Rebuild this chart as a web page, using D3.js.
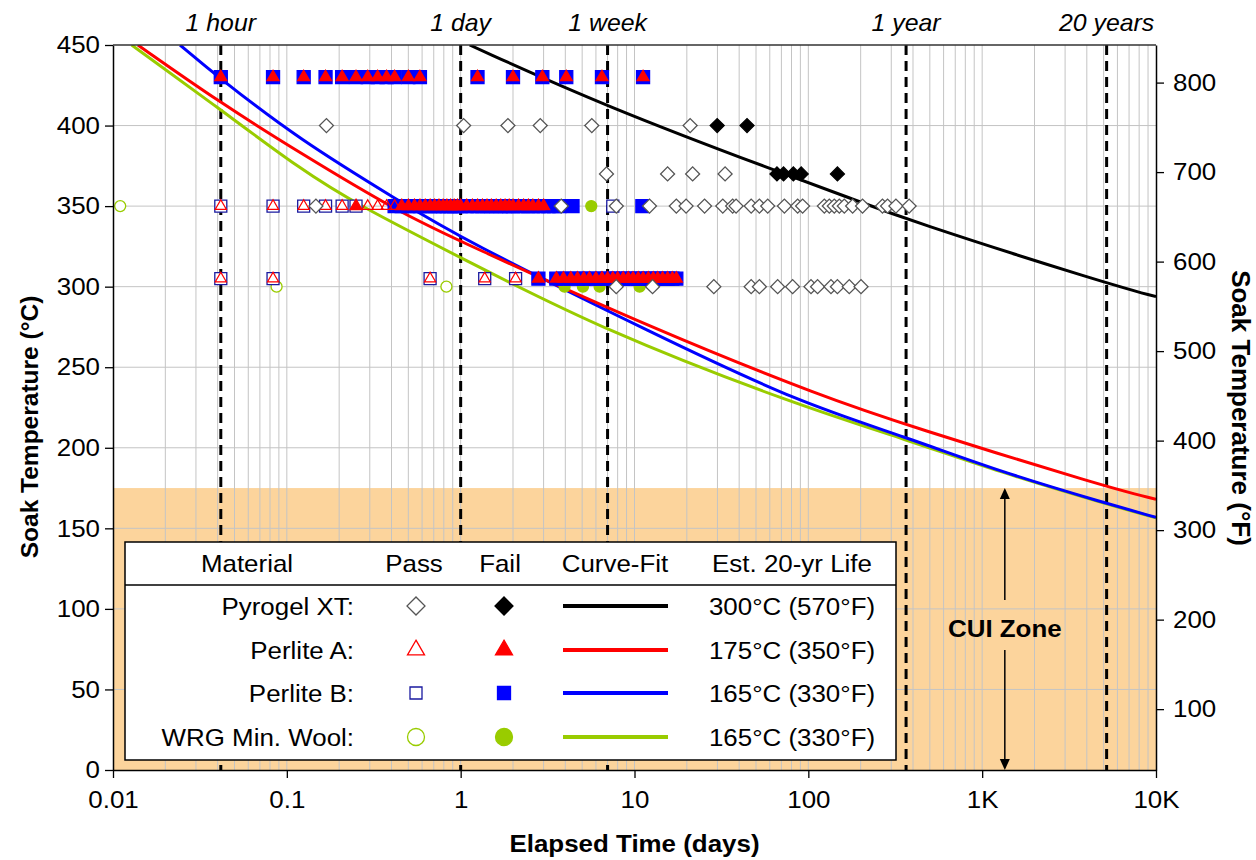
<!DOCTYPE html>
<html>
<head>
<meta charset="utf-8">
<script src="https://cdn.jsdelivr.net/npm/d3@7"></script>
<style>
  body { margin: 0; background: #fff; }
  svg { display: block; }
  text { font-family: "Liberation Sans", Arial, Helvetica, sans-serif; fill: #000; }
</style>
</head>
<body>
<svg id="chart" width="1256" height="860"></svg>
<script>
// ---------- data: [elapsed days, soak temperature °C] ----------
const pyrogelPass = [
  [0.169,400],[1.04,400],[1.87,400],[2.87,400],[5.68,400],[20.9,400],
  [6.9,370],[15.5,370],[21.6,370],[33.2,370],
  [0.147,350],[3.79,350],[7.86,350],[12.2,350],[17.4,350],[19.8,350],[25.3,350],[32.2,350],
  [36.7,350],[38.4,350],[46.9,350],[52.3,350],[58.4,350],[72.8,350],[86.8,350],[92.7,350],
  [123.6,350],[132,350],[141,350],[150.7,350],[161,350],[179.8,350],[205,350],[267,350],
  [285.6,350],[319,350],[380,350],
  [7.85,300],[12.7,300],[28.6,300],[46.9,300],[52.3,300],[66.6,300],[81.2,300],[103.6,300],
  [113,300],[135,300],[147,300],[172,300],[201,300]
];
const pyrogelFail = [
  [29.9,400],[44.4,400],
  [66,370],[72,370],[82,370],[91,370],[147,370]
];
const perliteAPass = [
  [0.0417,350],[0.0833,350],[0.125,350],[0.167,350],[0.208,350],[0.292,350],[0.333,350],[0.375,350],[0.417,350],
  [0.0417,305],[0.0833,305],[0.667,305],[1.375,305],[2.07,305]
];
const perliteAFail = [
  [0.0417,430],[0.0833,430],[0.125,430],[0.167,430],[0.208,430],[0.25,430],[0.292,430],[0.333,430],
  [0.375,430],[0.417,430],[0.5,430],[0.583,430],[1.25,430],[2.0,430],[2.95,430],[4.05,430],[6.5,430],[11.2,430],
  [0.25,350],[0.458,350],[0.5,350],[0.542,350],[0.583,350],[0.625,350],[0.667,350],[0.708,350],[0.75,350],
  [0.792,350],[0.833,350],[0.875,350],[0.917,350],[0.958,350],[1.0,350],[1.083,350],[1.167,350],[1.25,350],
  [1.333,350],[1.417,350],[1.5,350],[1.6,350],[1.7,350],[1.8,350],[1.9,350],[2.0,350],[2.15,350],[2.3,350],
  [2.45,350],[2.6,350],[2.8,350],[3.0,350],
  [2.8,305],[3.55,305],[3.9,305],[4.3,305],[4.7,305],[5.1,305],[5.5,305],[6.0,305],[6.5,305],[7.0,305],
  [7.5,305],[8.0,305],[8.6,305],[9.2,305],[9.8,305],[10.5,305],[11.2,305],[12.0,305],[12.8,305],[13.6,305],
  [14.5,305],[15.5,305],[16.5,305],[17.4,305]
];
const perliteBPass = [
  [0.0417,350],[0.0833,350],[0.125,350],[0.167,350],[0.208,350],[0.25,350],[7.5,350],
  [0.0417,305],[0.0833,305],[0.667,305],[1.375,305],[2.07,305]
];
const perliteBFail = [
  [0.0417,430],[0.0833,430],[0.125,430],[0.167,430],[0.208,430],[0.25,430],[0.292,430],[0.333,430],
  [0.375,430],[0.417,430],[0.5,430],[0.583,430],[1.25,430],[2.0,430],[2.95,430],[4.05,430],[6.5,430],[11.2,430],
  [0.417,350],[0.458,350],[0.5,350],[0.542,350],[0.583,350],[0.625,350],[0.667,350],[0.708,350],[0.75,350],
  [0.792,350],[0.833,350],[0.875,350],[0.917,350],[0.958,350],[1.0,350],[1.083,350],[1.167,350],[1.25,350],
  [1.333,350],[1.417,350],[1.5,350],[1.6,350],[1.7,350],[1.8,350],[1.9,350],[2.0,350],[2.15,350],[2.3,350],
  [2.45,350],[2.6,350],[2.8,350],[3.0,350],[3.2,350],[3.45,350],[3.7,350],[4.4,350],[11.1,350],
  [2.8,305],[3.55,305],[3.9,305],[4.3,305],[4.7,305],[5.1,305],[5.5,305],[6.0,305],[6.5,305],[7.0,305],
  [7.5,305],[8.0,305],[8.6,305],[9.2,305],[9.8,305],[10.5,305],[11.2,305],[12.0,305],[12.8,305],[13.6,305],
  [14.5,305],[15.5,305],[16.5,305],[17.4,305]
];
const wrgPass = [[0.011,350],[0.0873,300],[0.828,300]];
const wrgFail = [[1.0,350],[5.64,350],[3.96,300],[5.05,300],[6.3,300],[10.7,300]];

// curve-fit lines (days, °C)
const fitPyrogel   = [[1.126,450],[6.87,411.7],[71.1,370.3],[164.8,356],[369,341.4],[5210,302],[10000,293.8]];
const fitPerliteA  = [[0.0139,450],[0.0403,415],[0.119,383],[0.446,346],[1,328],[13.3,273],[126,231],[369,214],[5210,175.5],[10000,168]];
const fitPerliteB  = [[0.0243,450],[0.0403,430],[0.119,391],[0.446,353],[1,330],[13.3,270],[88.7,228],[369,206.5],[1253,185.3],[5210,165.4],[10000,156.8]];
const fitWRG       = [[0.0128,450],[0.0403,411],[0.119,373],[0.263,350],[1,318],[6.56,273],[88.7,226],[369,205],[1253,185],[5210,165],[10000,156.5]];

// time markers along the top
const markerLabels = ["1 hour", "1 day", "1 week", "1 year", "20 years"];
const markerDays   = [0.0417, 1, 7, 365, 5200];

// axis ticks
const xTicks = [0.01, 0.1, 1, 10, 100, 1000, 10000];
const xTickLabels = ["0.01", "0.1", "1", "10", "100", "1K", "10K"];
const yTicksC = [0, 50, 100, 150, 200, 250, 300, 350, 400, 450];
const yTicksF = [100, 200, 300, 400, 500, 600, 700, 800];

// CUI zone upper limit and arrow position
const cuiTop = 175;
const cuiArrowDay = 1350;

// legend contents
const legendNames = ["Pyrogel XT:", "Perlite A:", "Perlite B:", "WRG Min. Wool:"];
const legendLife  = ["300°C (570°F)", "175°C (350°F)", "165°C (330°F)", "165°C (330°F)"];
const legendHeads = ["Material", "Pass", "Fail", "Curve-Fit", "Est. 20-yr Life"];

// ---------- layout ----------
const L = 113, R = 1156, T = 45, B = 770;
const SX = 1.08; // horizontal text stretch
const RED = "#ff0000", BLUE = "#0000ff", GREEN = "#99cc00", ORANGE = "#fcd49c", GRID = "#c4c4c4";

const svg = d3.select("#chart");
const x = d3.scaleLog().domain([0.01, 10000]).range([L, R]);
const y = d3.scaleLinear().domain([0, 450]).range([B, T]);
const yF = d3.scaleLinear().domain([32, 842]).range([B, T]);

function txt(g, px, py, s, o = {}) {
  return g.append("text")
    .attr("transform", `translate(${px},${py}) scale(${o.sx || SX},1)`)
    .attr("text-anchor", o.anchor || "start")
    .attr("font-size", o.size || 24)
    .attr("font-weight", o.weight || "normal")
    .attr("font-style", o.style || "normal")
    .text(s);
}

svg.append("defs").append("clipPath").attr("id", "plotclip")
  .append("rect").attr("x", L).attr("y", T).attr("width", R - L).attr("height", B - T);

// CUI zone
svg.append("rect").attr("x", L).attr("y", y(cuiTop)).attr("width", R - L).attr("height", B - y(cuiTop))
  .attr("fill", ORANGE);

// grid
const grid = svg.append("g");
const minor = [];
[0.01, 0.1, 1, 10, 100, 1000].forEach(d => { for (let k = 1; k <= 9; k++) minor.push(k * d); });
grid.selectAll("line.v").data(minor.filter(v => v > 0.01)).join("line")
  .attr("x1", d => x(d)).attr("x2", d => x(d)).attr("y1", T).attr("y2", B)
  .attr("stroke", GRID).attr("stroke-width", 1);
grid.selectAll("line.h").data(yTicksC.filter(v => v > 0 && v < 450)).join("line")
  .attr("x1", L).attr("x2", R).attr("y1", d => y(d)).attr("y2", d => y(d))
  .attr("stroke", GRID).attr("stroke-width", 1);

// milestone dashed lines
svg.append("g").selectAll("line").data(markerDays).join("line")
  .attr("x1", d => x(d)).attr("x2", d => x(d)).attr("y1", T).attr("y2", B)
  .attr("stroke", "#000").attr("stroke-width", 3).attr("stroke-dasharray", "10,6");
markerDays.forEach((d, i) => txt(svg, x(d), 31, markerLabels[i], { anchor: "middle", style: "italic", size: 23 }));

// curve fits
const line = d3.line().x(d => x(d[0])).y(d => y(d[1])).curve(d3.curveBasis);
const curves = svg.append("g").attr("clip-path", "url(#plotclip)");
[[fitWRG, GREEN], [fitPerliteB, BLUE], [fitPerliteA, RED], [fitPyrogel, "#000"]].forEach(([data, col]) => {
  curves.append("path").datum(data).attr("d", line).attr("fill", "none")
    .attr("stroke", col).attr("stroke-width", 3);
});

// marker shapes
const diamond = s => d3.symbol().type(d3.symbolSquare).size(s * s / 2)();
const square = s => d3.symbol().type(d3.symbolSquare).size(s * s)();
const tri = s => d3.symbol().type(d3.symbolTriangle).size(s * s * Math.sqrt(3) / 4)();
const circ = s => d3.symbol().type(d3.symbolCircle).size(Math.PI * s * s / 4)();

function drawPts(g, data, path, fill, stroke, rot = 0) {
  g.selectAll(null).data(data).join("path")
    .attr("d", path)
    .attr("transform", d => `translate(${x(d[0])},${y(d[1])}) rotate(${rot})`)
    .attr("fill", fill).attr("stroke", stroke).attr("stroke-width", 1.3);
}
const pts = svg.append("g");
drawPts(pts, wrgPass, circ(11), "#fff", GREEN);
drawPts(pts, wrgFail, circ(11), GREEN, GREEN);
drawPts(pts, perliteBPass, square(12), "#fff", "#1a1aa0");
drawPts(pts, perliteBFail, square(13), BLUE, BLUE);
drawPts(pts, perliteAPass, tri(11), "none", RED);
drawPts(pts, perliteAFail, tri(12), RED, RED);
drawPts(pts, pyrogelPass, diamond(14), "#fff", "#555", 45);
drawPts(pts, pyrogelFail, diamond(14), "#000", "#000", 45);

// axes
function stretchTicks(g) {
  g.selectAll(".tick text").each(function () {
    const t = d3.select(this);
    const ox = +t.attr("x") || 0;
    t.attr("x", ox / SX).attr("transform", `scale(${SX},1)`);
  });
}
const font = g => g.selectAll("text").attr("font-size", 24).attr("font-family", null).attr("fill", "#000");

const xAxis = svg.append("g").attr("transform", `translate(0,${B})`)
  .call(d3.axisBottom(x).tickValues(xTicks).tickFormat((d, i) => xTickLabels[i]).tickSize(8).tickSizeOuter(0).tickPadding(13));
xAxis.call(font).call(stretchTicks);
const yAxis = svg.append("g").attr("transform", `translate(${L},0)`)
  .call(d3.axisLeft(y).tickValues(yTicksC).tickSize(8).tickSizeOuter(0).tickPadding(5));
yAxis.call(font).call(stretchTicks);
const yAxisF = svg.append("g").attr("transform", `translate(${R},0)`)
  .call(d3.axisRight(yF).tickValues(yTicksF).tickSize(8).tickSizeOuter(0).tickPadding(9));
yAxisF.call(font).call(stretchTicks);
[xAxis, yAxis, yAxisF].forEach(a => {
  a.selectAll("path.domain").attr("stroke", "#000").attr("stroke-width", 1.5);
  a.selectAll(".tick line").attr("stroke", "#000").attr("stroke-width", 1.3);
});
// top frame line
svg.append("line").attr("x1", L).attr("x2", R).attr("y1", T).attr("y2", T).attr("stroke", "#333").attr("stroke-width", 1.5);

// axis titles
txt(svg, (L + R) / 2, 852, "Elapsed Time (days)", { anchor: "middle", weight: "bold", size: 24 });
svg.append("text").attr("transform", "translate(38,427) rotate(-90)")
  .attr("text-anchor", "middle").attr("font-size", 24.5).attr("font-weight", "bold")
  .text("Soak Temperature (°C)");
svg.append("text").attr("transform", "translate(1232,408) rotate(90)")
  .attr("text-anchor", "middle").attr("font-size", 26).attr("font-weight", "bold")
  .text("Soak Temperature (°F)");

// CUI zone label and arrows
const ax = x(cuiArrowDay);
const arrows = svg.append("g");
arrows.append("line").attr("x1", ax).attr("x2", ax).attr("y1", 600).attr("y2", y(cuiTop) + 8)
  .attr("stroke", "#000").attr("stroke-width", 1.5);
arrows.append("path").attr("d", `M${ax},${y(cuiTop)} l-5,11 l10,0 z`).attr("fill", "#000");
arrows.append("line").attr("x1", ax).attr("x2", ax).attr("y1", 650).attr("y2", B - 8)
  .attr("stroke", "#000").attr("stroke-width", 1.5);
arrows.append("path").attr("d", `M${ax},${B} l-5,-11 l10,0 z`).attr("fill", "#000");
txt(svg, ax, 637, "CUI Zone", { anchor: "middle", weight: "bold", size: 24 });

// legend
const lg = svg.append("g");
const LX0 = 125, LX1 = 896, LY0 = 542, LY1 = 760;
lg.append("rect").attr("x", LX0).attr("y", LY0).attr("width", LX1 - LX0).attr("height", LY1 - LY0)
  .attr("fill", "#fff").attr("stroke", "#000").attr("stroke-width", 1.5);
lg.append("line").attr("x1", LX0).attr("x2", LX1).attr("y1", 585).attr("y2", 585)
  .attr("stroke", "#000").attr("stroke-width", 1.5);
const headX = [247, 414, 500, 615, 792];
legendHeads.forEach((h, i) => txt(lg, headX[i], 572, h, { anchor: "middle" }));
const rowY = [606, 650, 693, 737];
const passX = 416, failX = 504;
const legendSym = [
  [diamond(18), "#fff", "#555", 45, diamond(18), "#000", "#000", "#000"],
  [tri(17), "#fff", RED, 0, tri(17), RED, RED, RED],
  [square(12), "#fff", "#1a1aa0", 0, square(13), BLUE, BLUE, BLUE],
  [circ(17), "#fff", GREEN, 0, circ(17), GREEN, GREEN, GREEN]
];
legendNames.forEach((n, i) => {
  const cy = rowY[i];
  txt(lg, 354, cy + 9, n, { anchor: "end" });
  const s = legendSym[i];
  lg.append("path").attr("d", s[0]).attr("transform", `translate(${passX},${cy}) rotate(${s[3]})`)
    .attr("fill", s[1]).attr("stroke", s[2]).attr("stroke-width", 1.3);
  lg.append("path").attr("d", s[4]).attr("transform", `translate(${failX},${cy}) rotate(${s[3]})`)
    .attr("fill", s[5]).attr("stroke", s[6]).attr("stroke-width", 1.3);
  lg.append("line").attr("x1", 563).attr("x2", 668).attr("y1", cy).attr("y2", cy)
    .attr("stroke", s[7]).attr("stroke-width", 4);
  txt(lg, 792, cy + 9, legendLife[i], { anchor: "middle" });
});
</script>
</body>
</html>
